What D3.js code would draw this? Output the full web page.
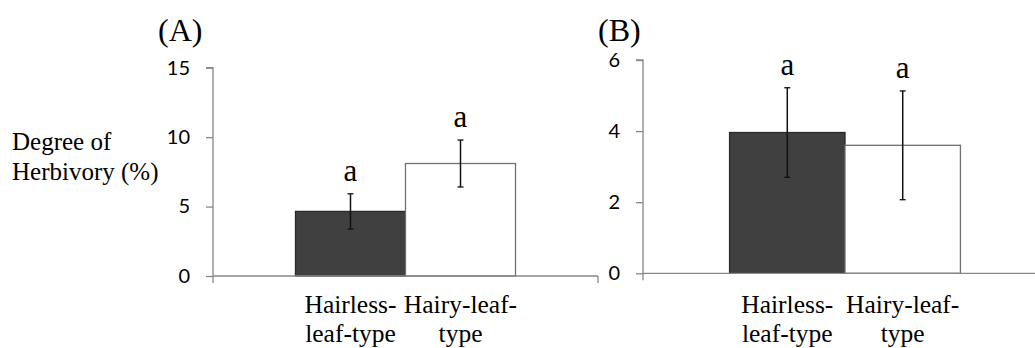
<!DOCTYPE html>
<html>
<head>
<meta charset="utf-8">
<script src="https://cdn.jsdelivr.net/npm/d3@7"></script>
<style>
  body { margin: 0; background: #fff; }
  svg { display: block; }
</style>
</head>
<body>
<div id="chart"></div>
<script>
// categories (two leaf types) and their labels, split as printed
var categories = ["Hairless-leaf-type", "Hairy-leaf-type"];
var categoryLines = [["Hairless-", "leaf-type"], ["Hairy-leaf-", "type"]];
var barColors = ["#404040", "#ffffff"];

// panel A: degree of herbivory (%)
var meansA = [4.65, 8.1];
var errA = [1.27, 1.69];
var lettersA = ["a", "a"];
var ticksA = [0, 5, 10, 15];

// panel B
var meansB = [3.96, 3.6];
var errB = [1.26, 1.53];
var lettersB = ["a", "a"];
var ticksB = [0, 2, 4, 6];

var width = 1035, height = 348;
var serif = "'Liberation Serif', 'Times New Roman', Times, serif";
var sans = "Lato, 'Open Sans', sans-serif";

var svg = d3.select("#chart")
            .append("svg")
            .attr("width", width)
            .attr("height", height);

// y axis label (shared, left of panel A)
var ylab = svg.append("text")
              .style("font-family", serif)
              .style("font-size", "25px")
              .attr("x", 12)
              .attr("y", 150);
ylab.append("tspan").attr("x", 12).attr("dy", 0).text("Degree of");
ylab.append("tspan").attr("x", 12).attr("dy", 30).text("Herbivory (%)");

var panels = [
  {title: "(A)", titleX: 158, means: meansA, err: errA, letters: lettersA, ticks: ticksA,
   x0: 213, x1: 598, yTop: 67.7, yZero: 276},
  {title: "(B)", titleX: 598, means: meansB, err: errB, letters: lettersB, ticks: ticksB,
   x0: 643, x1: 1047, yTop: 60, yZero: 273.3}
];

panels.forEach(function(p) {
  var g = svg.append("g");

  var y = d3.scaleLinear()
            .domain([0, d3.max(p.ticks)])
            .range([p.yZero, p.yTop]);

  // one category slot, 150% gap width like the original spreadsheet chart
  var x = d3.scaleBand()
            .domain(["group"])
            .range([p.x0, p.x1])
            .paddingInner(0)
            .paddingOuter(0.375);
  var xs = d3.scaleBand()
             .domain(categories)
             .range([x("group"), x("group") + x.bandwidth()]);

  // title
  g.append("text")
   .style("font-family", serif)
   .style("font-size", "32px")
   .attr("x", p.titleX)
   .attr("y", 41)
   .text(p.title);

  // y axis
  var yAxis = g.append("g")
               .attr("transform", "translate(" + p.x0 + ",0)")
               .call(d3.axisLeft(y).tickValues(p.ticks).tickSize(7).tickPadding(16).tickFormat(d3.format("d")));
  yAxis.selectAll("line, path").attr("stroke", "#878787").attr("stroke-width", 1.3);
  yAxis.select(".domain").attr("d", "M-7," + y(d3.max(p.ticks)) + "H0V" + p.yZero);
  yAxis.selectAll("text")
       .style("font-family", sans)
       .style("font-size", "20px")
       .attr("fill", "#000");

  // bars
  g.selectAll(".bar")
   .data(p.means)
   .enter()
   .append("rect")
   .attr("x", function(d, i) { return xs(categories[i]); })
   .attr("width", xs.bandwidth())
   .attr("y", function(d) { return y(d); })
   .attr("height", function(d) { return y(0) - y(d); })
   .attr("fill", function(d, i) { return barColors[i]; })
   .attr("stroke", function(d, i) { return i == 0 ? "#2a2a2a" : "#707070"; })
   .attr("stroke-width", 1.3);

  // x axis line with boundary ticks
  g.append("line")
   .attr("x1", p.x0).attr("x2", p.x1)
   .attr("y1", p.yZero).attr("y2", p.yZero)
   .attr("stroke", "#878787").attr("stroke-width", 1.3);
  [p.x0, p.x1].forEach(function(xx) {
    g.append("line")
     .attr("x1", xx).attr("x2", xx)
     .attr("y1", p.yZero).attr("y2", p.yZero + 7)
     .attr("stroke", "#878787").attr("stroke-width", 1.3);
  });

  // error bars
  p.means.forEach(function(m, i) {
    var cx = xs(categories[i]) + xs.bandwidth() / 2;
    var hi = y(m + p.err[i]), lo = y(m - p.err[i]);
    g.append("line")
     .attr("x1", cx).attr("x2", cx)
     .attr("y1", hi).attr("y2", lo)
     .attr("stroke", "#111").attr("stroke-width", 1.5);
    [hi, lo].forEach(function(yy) {
      g.append("line")
       .attr("x1", cx - 3).attr("x2", cx + 3)
       .attr("y1", yy).attr("y2", yy)
       .attr("stroke", "#111").attr("stroke-width", 1.3);
    });
    // significance letter
    g.append("text")
     .style("font-family", serif)
     .style("font-size", "31px")
     .attr("text-anchor", "middle")
     .attr("x", cx)
     .attr("y", hi - 13)
     .text(p.letters[i]);
    // category label
    var t = g.append("text")
             .style("font-family", serif)
             .style("font-size", "25.5px")
             .attr("text-anchor", "middle")
             .attr("y", 313);
    categoryLines[i].forEach(function(line, k) {
      t.append("tspan")
       .attr("x", cx)
       .attr("dy", k == 0 ? 0 : 29)
       .text(line);
    });
  });
});
</script>
</body>
</html>
